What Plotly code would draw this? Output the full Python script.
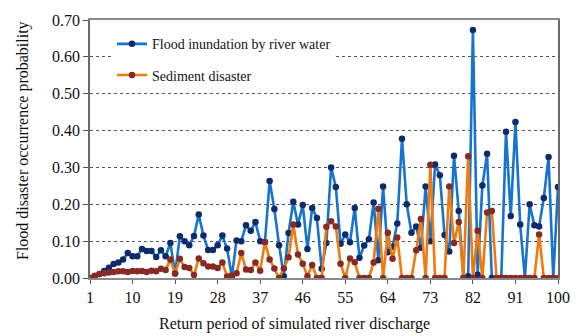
import plotly.graph_objects as go

return_period = list(range(1, 101))

flood_inundation = [
    0.000, 0.005, 0.011, 0.019, 0.028, 0.038, 0.042, 0.050, 0.068, 0.059,
    0.059, 0.079, 0.073, 0.073, 0.057, 0.075, 0.059, 0.095, 0.012, 0.113,
    0.100, 0.089, 0.114, 0.172, 0.115, 0.076, 0.076, 0.089, 0.115, 0.080,
    0.004, 0.102, 0.100, 0.143, 0.128, 0.152, 0.100, 0.097, 0.263, 0.187,
    0.089, 0.005, 0.122, 0.207, 0.145, 0.198, 0.079, 0.190, 0.163, 0.025,
    0.095, 0.300, 0.247, 0.093, 0.118, 0.097, 0.190, 0.055, 0.088, 0.105,
    0.205, 0.048, 0.248, 0.070, 0.085, 0.148, 0.378, 0.200, 0.123, 0.140,
    0.082, 0.248, 0.100, 0.308, 0.279, 0.117, 0.072, 0.332, 0.182, 0.000,
    0.005, 0.673, 0.009, 0.251, 0.337, 0.000, 0.000, 0.000, 0.397, 0.168,
    0.423, 0.145, 0.000, 0.200, 0.143, 0.140, 0.217, 0.328, 0.000, 0.247,
]

sediment_disaster = [
    0.000, 0.006, 0.011, 0.013, 0.015, 0.016, 0.018, 0.018, 0.016, 0.019,
    0.018, 0.019, 0.016, 0.020, 0.018, 0.025, 0.022, 0.050, 0.012, 0.052,
    0.030, 0.027, 0.008, 0.053, 0.040, 0.031, 0.031, 0.027, 0.042, 0.004,
    0.007, 0.013, 0.068, 0.023, 0.022, 0.042, 0.020, 0.098, 0.050, 0.026,
    0.000, 0.026, 0.056, 0.145, 0.064, 0.039, 0.005, 0.035, 0.000, 0.000,
    0.139, 0.154, 0.140, 0.039, 0.000, 0.053, 0.043, 0.000, 0.000, 0.000,
    0.042, 0.188, 0.000, 0.123, 0.052, 0.110, 0.000, 0.000, 0.000, 0.075,
    0.160, 0.000, 0.307, 0.000, 0.000, 0.000, 0.248, 0.095, 0.152, 0.000,
    0.330, 0.000, 0.128, 0.000, 0.178, 0.182, 0.000, 0.000, 0.000, 0.000,
    0.000, 0.000, 0.000, 0.000, 0.000, 0.118, 0.000, 0.000, 0.000, 0.000,
]

x_ticks = [1, 10, 19, 28, 37, 46, 55, 64, 73, 82, 91, 100]
y_ticks = [0.0, 0.1, 0.2, 0.3, 0.4, 0.5, 0.6, 0.7]

FONT = "Liberation Serif"

fig = go.Figure()
fig.add_trace(go.Scatter(
    x=return_period, y=flood_inundation, mode="lines+markers",
    name="Flood inundation by river water", legendgroup="a",
    line=dict(color="#1673CF", width=2.6),
    marker=dict(color="#0D2B6B", size=6.5),
))
fig.add_trace(go.Scatter(
    x=return_period, y=sediment_disaster, mode="lines+markers",
    name="Sediment disaster", legendgroup="b",
    line=dict(color="#F07A10", width=2.6),
    marker=dict(color="#852A24", size=6.5),
))

fig.update_layout(
    width=582, height=336,
    margin=dict(l=90, r=16, t=15, b=58),
    paper_bgcolor="white", plot_bgcolor="white",
    font=dict(family=FONT, size=16, color="#111"),
    showlegend=True,
    legend=dict(
        x=0.047, y=0.968, xanchor="left", yanchor="top",
        bgcolor="white", borderwidth=0,
        font=dict(family=FONT, size=14, color="#111"),
        traceorder="grouped", tracegroupgap=10,
    ),
)
fig.update_xaxes(
    range=[1, 100], tickvals=x_ticks, ticktext=[str(v) for v in x_ticks],
    showgrid=False, zeroline=False,
    showline=True, linecolor="#8a8a8a", linewidth=1.5, mirror=True,
    ticks="outside", ticklen=4, tickcolor="#555",
    tickfont=dict(family=FONT, size=16, color="#111"),
)
fig.update_yaxes(
    range=[0, 0.70], tickvals=y_ticks, tickformat=".2f",
    showgrid=True, gridcolor="#555", griddash="dot", gridwidth=1,
    zeroline=False,
    showline=True, linecolor="#6a6a6a", linewidth=1.5, mirror=True,
    ticks="outside", ticklen=5, tickcolor="#555",
    tickfont=dict(family=FONT, size=16, color="#111"),
)

fig.add_annotation(
    text="Return period of simulated river discharge",
    xref="paper", yref="paper", x=(298 - 90) / 476, y=-58 / 263,
    xanchor="center", yanchor="bottom", showarrow=False,
    font=dict(family=FONT, size=16, color="#111"),
)
fig.add_annotation(
    text="Flood disaster occurrence probability",
    xref="paper", yref="paper", x=-(90 - 10) / 476, y=(278 - 138) / 263,
    xanchor="left", yanchor="middle", textangle=-90, showarrow=False,
    font=dict(family=FONT, size=16, color="#111"),
)

fig.write_html("out.html")
